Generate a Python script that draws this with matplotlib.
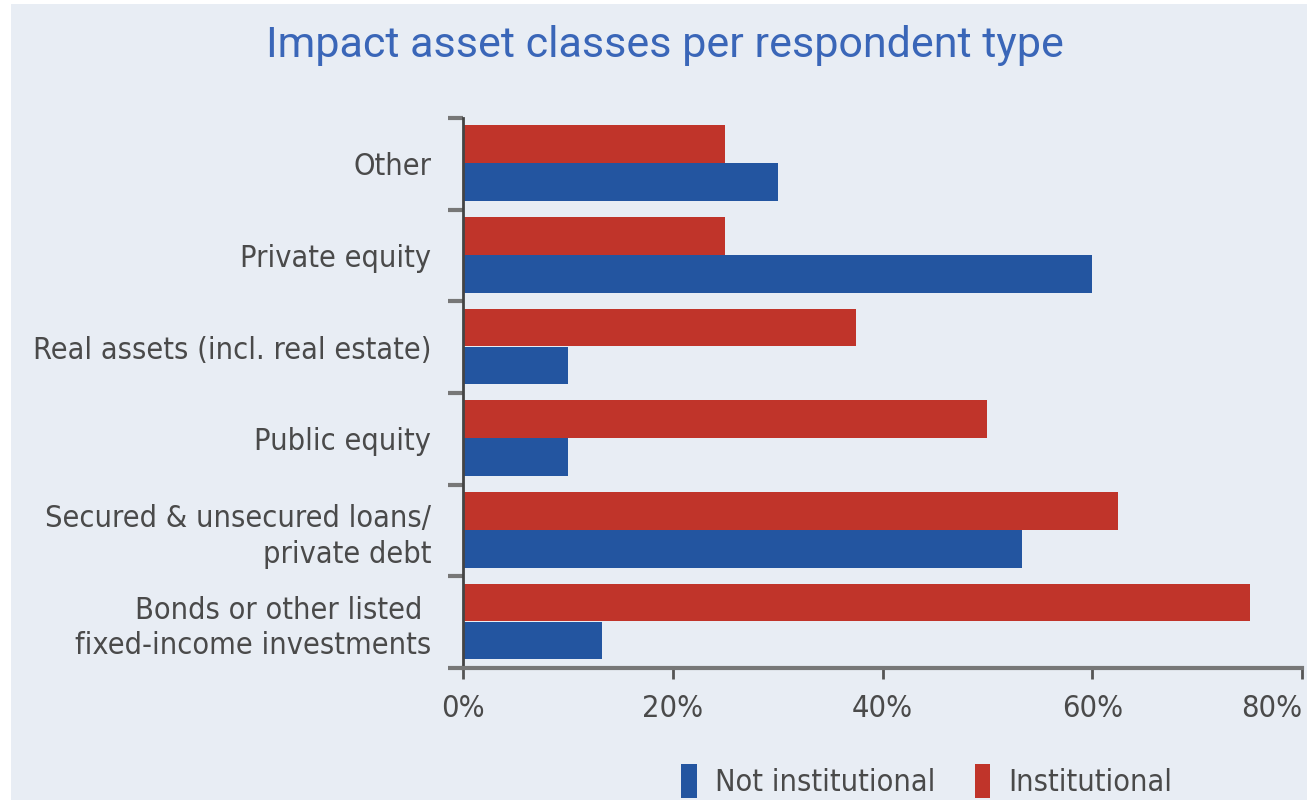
import matplotlib
matplotlib.use("Agg")
import matplotlib.pyplot as plt
from matplotlib.patches import Patch, Rectangle
from matplotlib.ticker import FixedLocator, PercentFormatter
import numpy as np

# data, bottom to top
categories = [
    "Bonds or other listed \nfixed-income investments",
    "Secured & unsecured loans/\nprivate debt",
    "Public equity",
    "Real assets (incl. real estate)",
    "Private equity",
    "Other",
]
institutional = [75.0, 62.5, 50.0, 37.5, 25.0, 25.0]
not_institutional = [13.3, 53.3, 10.0, 10.0, 60.0, 30.0]

BG = "#e8edf4"
RED = "#c0342a"
BLUE = "#2355a0"
TEXT = "#4a4a4a"
LABEL_FONT = "DejaVu Sans"
STRETCH = "condensed"

fig = plt.figure(figsize=(13.07, 8.0), dpi=100)
fig.patch.set_facecolor("white")
fig.patches.append(Rectangle((11 / 1307, 0), 1, 1 - 4 / 800, transform=fig.transFigure,
                             facecolor=BG, edgecolor="none", zorder=-10))

ax = fig.add_axes([463 / 1307, 1 - 668 / 800, (1302 - 463) / 1307, (668 - 118) / 800])
ax.patch.set_alpha(0)

y = np.arange(len(categories))
h = 0.41
ax.barh(y + 0.215, institutional, height=h, color=RED, label="Institutional")
ax.barh(y - 0.2, not_institutional, height=h, color=BLUE, label="Not institutional")

ax.set_xlim(0, 80)
ax.set_ylim(-0.5, len(categories) - 0.5)
ax.xaxis.set_major_locator(FixedLocator([0, 20, 40, 60, 80]))
ax.xaxis.set_major_formatter(PercentFormatter(decimals=0))

ax.yaxis.set_major_locator(FixedLocator(y))
ax.yaxis.set_minor_locator(FixedLocator(np.arange(-0.5, len(categories), 1.0)))
ax.set_yticklabels(categories, fontsize=22, color=TEXT, linespacing=1.27)
ax.tick_params(axis="y", which="major", length=0, pad=23)
ax.tick_params(axis="y", which="minor", length=11, width=3, color="#777777")
ax.tick_params(axis="x", length=8, width=2, color="#555555", pad=11, labelsize=22,
               labelcolor=TEXT)
fig.canvas.draw()
for lab in ax.get_xticklabels() + ax.get_yticklabels():
    lab.set_family(LABEL_FONT)
    lab.set_fontstretch(STRETCH)
ax.get_xticklabels()[-1].set_horizontalalignment("right")
ax.get_xticklabels()[-1].set_x(80.6)

for s in ["top", "right"]:
    ax.spines[s].set_visible(False)
ax.spines["left"].set_color("#444444")
ax.spines["left"].set_linewidth(2)
ax.spines["bottom"].set_color("#777777")
ax.spines["bottom"].set_linewidth(3)

fig.text(0.509, 1 - 45 / 800, "Impact asset classes per respondent type", ha="center",
         va="center", fontsize=31, color="#3a66b8", family="Roboto")

handles = [Patch(facecolor=BLUE, label="Not institutional"),
           Patch(facecolor=RED, label="Institutional")]
fig.legend(handles=handles, loc="center", bbox_to_anchor=(927 / 1307, 1 - 781 / 800),
           ncol=2, frameon=False, handlelength=0.5, handleheight=1.3, handletextpad=0.6,
           columnspacing=1.3,
           prop={"family": LABEL_FONT, "stretch": STRETCH, "size": 22}, labelcolor=TEXT)

fig.savefig("out.png", dpi=100, facecolor=fig.get_facecolor())
